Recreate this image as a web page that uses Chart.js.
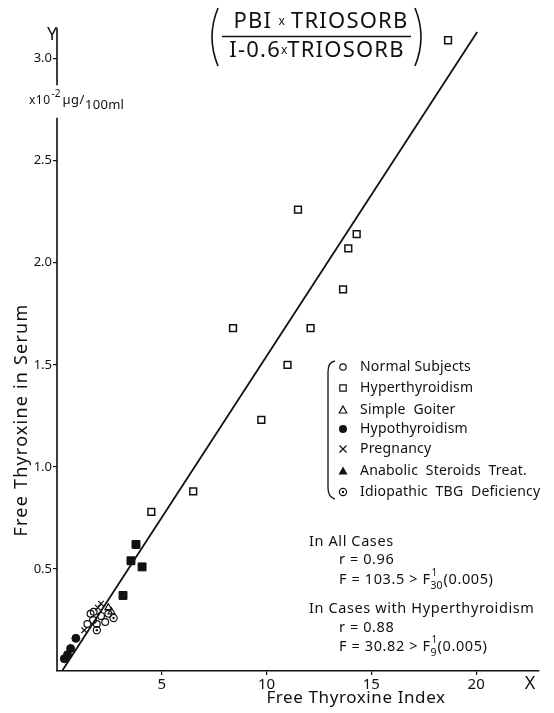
<!DOCTYPE html>
<html>
<head>
<meta charset="utf-8">
<script src="https://cdn.jsdelivr.net/npm/chart.js@4"></script>
<style>
  html, body { margin: 0; padding: 0; background: #fff; }
  canvas { display: block; }
</style>
</head>
<body>
<canvas id="chart" width="554" height="713"></canvas>
<script>
// values (x = free thyroxine index, y = free thyroxine x10^-2 ug/100ml)
const hyperX = [18.66, 11.5, 14.3, 13.9, 13.65, 8.4, 12.1, 11.0, 9.75, 6.5, 4.5];
const hyperY = [3.09, 2.26, 2.14, 2.07, 1.87, 1.68, 1.68, 1.50, 1.23, 0.88, 0.78];
const anabolicX = [3.77, 3.53, 4.06, 3.15];
const anabolicY = [0.62, 0.54, 0.51, 0.37];
const hypoX = [0.9, 0.65, 0.5, 0.35];
const hypoY = [0.16, 0.11, 0.08, 0.06];
const normalX = [1.45, 1.6, 1.75, 1.72, 2.1, 2.3, 2.45, 1.9];
const normalY = [0.23, 0.28, 0.29, 0.25, 0.27, 0.24, 0.28, 0.23];
const pregX = [1.3, 1.95, 2.1];
const pregY = [0.20, 0.31, 0.33];
const goiterX = [2.45, 2.6];
const goiterY = [0.31, 0.29];
const tbgX = [1.9, 2.7];
const tbgY = [0.20, 0.26];
const fitX = [0.24, 20.05];
const fitY = [0, 3.13];

const yTicks = [0.5, 1.0, 1.5, 2.0, 2.5, 3.0];
const xTicks = [5, 10, 15, 20];
const legendLabels = ['Normal Subjects', 'Hyperthyroidism', 'Simple  Goiter', 'Hypothyroidism',
  'Pregnancy', 'Anabolic  Steroids  Treat.', 'Idiopathic  TBG  Deficiency'];

const FONT = '"Noto Sans", "DejaVu Sans", sans-serif';
const INK = '#111';

const pts = (xs, ys) => xs.map((x, i) => ({ x: x, y: ys[i] }));

// little marker painter for the hand-made legend
function marker(ctx, kind, x, y) {
  ctx.save();
  ctx.strokeStyle = INK; ctx.fillStyle = INK; ctx.lineWidth = 1.2;
  ctx.beginPath();
  if (kind === 'circle') { ctx.arc(x, y, 3.2, 0, Math.PI * 2); ctx.stroke(); }
  if (kind === 'square') { ctx.rect(x - 3.2, y - 3.2, 6.4, 6.4); ctx.stroke(); }
  if (kind === 'tri') { ctx.moveTo(x, y - 4); ctx.lineTo(x + 3.8, y + 3); ctx.lineTo(x - 3.8, y + 3); ctx.closePath(); ctx.stroke(); }
  if (kind === 'dot') { ctx.arc(x, y, 4, 0, Math.PI * 2); ctx.fill(); }
  if (kind === 'cross') { ctx.moveTo(x - 3.5, y - 3.5); ctx.lineTo(x + 3.5, y + 3.5); ctx.moveTo(x + 3.5, y - 3.5); ctx.lineTo(x - 3.5, y + 3.5); ctx.stroke(); }
  if (kind === 'filltri') { ctx.moveTo(x, y - 4.5); ctx.lineTo(x + 4.5, y + 3.5); ctx.lineTo(x - 4.5, y + 3.5); ctx.closePath(); ctx.fill(); }
  if (kind === 'target') { ctx.arc(x, y, 3.6, 0, Math.PI * 2); ctx.stroke(); ctx.beginPath(); ctx.arc(x, y, 1.2, 0, Math.PI * 2); ctx.fill(); }
  ctx.restore();
}

function text(ctx, s, x, y, size, align, spacing) {
  ctx.font = size + 'px ' + FONT;
  ctx.letterSpacing = (spacing || 0) + 'px';
  ctx.textAlign = align || 'left';
  ctx.textBaseline = 'middle';
  ctx.fillText(s, x, y);
  const w = ctx.measureText(s).width;
  ctx.letterSpacing = '0px';
  return w;
}

const decorations = {
  id: 'decorations',
  afterDraw(chart) {
    const ctx = chart.ctx;
    const xs = chart.scales.x, ys = chart.scales.y;
    const ax = xs.getPixelForValue(0);
    ctx.save();
    ctx.fillStyle = INK; ctx.strokeStyle = INK;

    // broken y axis
    ctx.lineWidth = 1.6;
    ctx.beginPath();
    ctx.moveTo(ax, ys.getPixelForValue(ys.max));
    ctx.lineTo(ax, ys.getPixelForValue(2.87));
    ctx.moveTo(ax, ys.getPixelForValue(2.71));
    ctx.lineTo(ax, ys.getPixelForValue(0));
    ctx.stroke();

    // axis letters and unit
    text(ctx, 'Y', 52, 35, 18, 'center');
    text(ctx, 'X', 530, 684, 18, 'center');
    let ux = 29;
    ux += text(ctx, 'x10', ux, 101, 12, 'left', 0.5);
    ux += text(ctx, '-2', ux + 1, 94, 10) + 3;
    ux += text(ctx, 'µg/', ux, 100, 13, 'left', 0.5);
    text(ctx, '100ml', ux, 105, 13, 'left', 0.3);

    // axis titles
    text(ctx, 'Free Thyroxine Index', 356, 698, 17, 'center', 0.6);
    ctx.save();
    ctx.translate(22, 420);
    ctx.rotate(-Math.PI / 2);
    text(ctx, 'Free Thyroxine in Serum', 0, 0, 18, 'center', 1.2);
    ctx.restore();

    // formula heading
    const numParts = [['PBI', 22, 1.2], ['  x  ', 12, 0], ['TRIOSORB', 22, 1.2]];
    const denParts = [['I-0.6', 22, 1.2], ['x', 12, 0], ['TRIOSORB', 22, 1.2]];
    const lay = (parts, cx, y) => {
      let w = 0;
      parts.forEach(p => {
        ctx.font = p[1] + 'px ' + FONT; ctx.letterSpacing = p[2] + 'px';
        w += ctx.measureText(p[0]).width;
      });
      ctx.letterSpacing = '0px';
      let x = cx - w / 2;
      parts.forEach(p => { x += text(ctx, p[0], x, y, p[1], 'left', p[2]); });
    };
    lay(numParts, 321, 22);
    lay(denParts, 317, 51);
    ctx.lineWidth = 1.6;
    ctx.beginPath();
    ctx.moveTo(222, 36.5); ctx.lineTo(411, 36.5);
    ctx.moveTo(218, 8); ctx.quadraticCurveTo(206, 37, 218, 66);
    ctx.moveTo(415, 8); ctx.quadraticCurveTo(427, 37, 415, 66);
    ctx.stroke();

    // legend with brace
    const kinds = ['circle', 'square', 'tri', 'dot', 'cross', 'filltri', 'target'];
    const rows = [367, 388, 410, 429, 449, 471, 492];
    kinds.forEach((k, i) => {
      marker(ctx, k, 343, rows[i]);
      text(ctx, legendLabels[i], 360, rows[i], 14, 'left', 0.2);
    });
    ctx.lineWidth = 1.3;
    ctx.beginPath();
    ctx.moveTo(335, 361);
    ctx.quadraticCurveTo(328, 362, 328, 372);
    ctx.lineTo(328, 488);
    ctx.quadraticCurveTo(328, 497, 335, 499);
    ctx.stroke();

    // statistics
    const sp = 0.6;
    text(ctx, 'In All Cases', 309, 542, 14.5, 'left', sp);
    text(ctx, 'r = 0.96', 339, 560, 14.5, 'left', sp);
    let fx = 339;
    fx += text(ctx, 'F = 103.5 > F', fx, 580, 14.5, 'left', sp);
    text(ctx, '1', fx + 1, 573, 10);
    fx += text(ctx, '30', fx, 586, 10.5) + 1;
    text(ctx, '(0.005)', fx, 580, 14.5, 'left', sp);
    text(ctx, 'In Cases with Hyperthyroidism', 309, 609, 14.5, 'left', sp);
    text(ctx, 'r = 0.88', 339, 628, 14.5, 'left', sp);
    fx = 339;
    fx += text(ctx, 'F = 30.82 > F', fx, 647, 14.5, 'left', sp);
    text(ctx, '1', fx + 1, 640, 10);
    fx += text(ctx, '9', fx, 653, 10.5) + 1;
    text(ctx, '(0.005)', fx, 647, 14.5, 'left', sp);

    ctx.restore();
  }
};

const hollow = 'rgba(0,0,0,0)';

new Chart(document.getElementById('chart'), {
  type: 'scatter',
  data: {
    datasets: [
      { label: 'fit', type: 'line', data: pts(fitX, fitY), borderColor: INK, borderWidth: 1.8,
        pointRadius: 0, fill: false, order: 10 },
      { label: 'Hyperthyroidism', data: pts(hyperX, hyperY), pointStyle: 'rect', pointRadius: 4.8,
        borderColor: INK, borderWidth: 1.5, backgroundColor: hollow },
      { label: 'Anabolic Steroids Treat.', data: pts(anabolicX, anabolicY), pointStyle: 'rect', pointRadius: 5.6,
        borderColor: INK, borderWidth: 1, backgroundColor: INK },
      { label: 'Hypothyroidism', data: pts(hypoX, hypoY), pointStyle: 'circle', pointRadius: 4,
        borderColor: INK, borderWidth: 1, backgroundColor: INK },
      { label: 'Normal Subjects', data: pts(normalX, normalY), pointStyle: 'circle', pointRadius: 3.4,
        borderColor: INK, borderWidth: 1.2, backgroundColor: hollow },
      { label: 'Pregnancy', data: pts(pregX, pregY), pointStyle: 'crossRot', pointRadius: 4,
        borderColor: INK, borderWidth: 1.2 },
      { label: 'Simple Goiter', data: pts(goiterX, goiterY), pointStyle: 'triangle', pointRadius: 4,
        borderColor: INK, borderWidth: 1.2, backgroundColor: hollow },
      { label: 'Idiopathic TBG Deficiency', data: pts(tbgX, tbgY), pointStyle: 'circle', pointRadius: 3.6,
        borderColor: INK, borderWidth: 1.2, backgroundColor: hollow },
      { label: 'TBG centre', data: pts(tbgX, tbgY), pointStyle: 'circle', pointRadius: 1.2,
        borderWidth: 0, backgroundColor: INK }
    ]
  },
  options: {
    responsive: false,
    animation: false,
    devicePixelRatio: 1,
    layout: { padding: { top: 28, right: 15, left: 0, bottom: 0 } },
    plugins: { legend: { display: false }, tooltip: { enabled: false } },
    scales: {
      x: {
        type: 'linear', min: 0, max: 23,
        afterFit: s => { s.height = 42; },
        afterBuildTicks: s => { s.ticks = xTicks.map(v => ({ value: v })); },
        grid: { drawOnChartArea: false, tickLength: 4, color: INK, lineWidth: 1.2 },
        border: { display: true, color: INK, width: 1.6 },
        ticks: { padding: 1, color: INK, font: { family: FONT, size: 15 } }
      },
      y: {
        type: 'linear', min: 0, max: 3.15,
        afterFit: s => { s.width = 57; },
        afterBuildTicks: s => { s.ticks = yTicks.map(v => ({ value: v })); },
        grid: { drawOnChartArea: false, tickLength: 4, color: INK, lineWidth: 1.2 },
        border: { display: false },
        ticks: { padding: 1, color: INK, font: { family: FONT, size: 13 },
          callback: v => v.toFixed(1) }
      }
    }
  },
  plugins: [decorations]
});
</script>
</body>
</html>
